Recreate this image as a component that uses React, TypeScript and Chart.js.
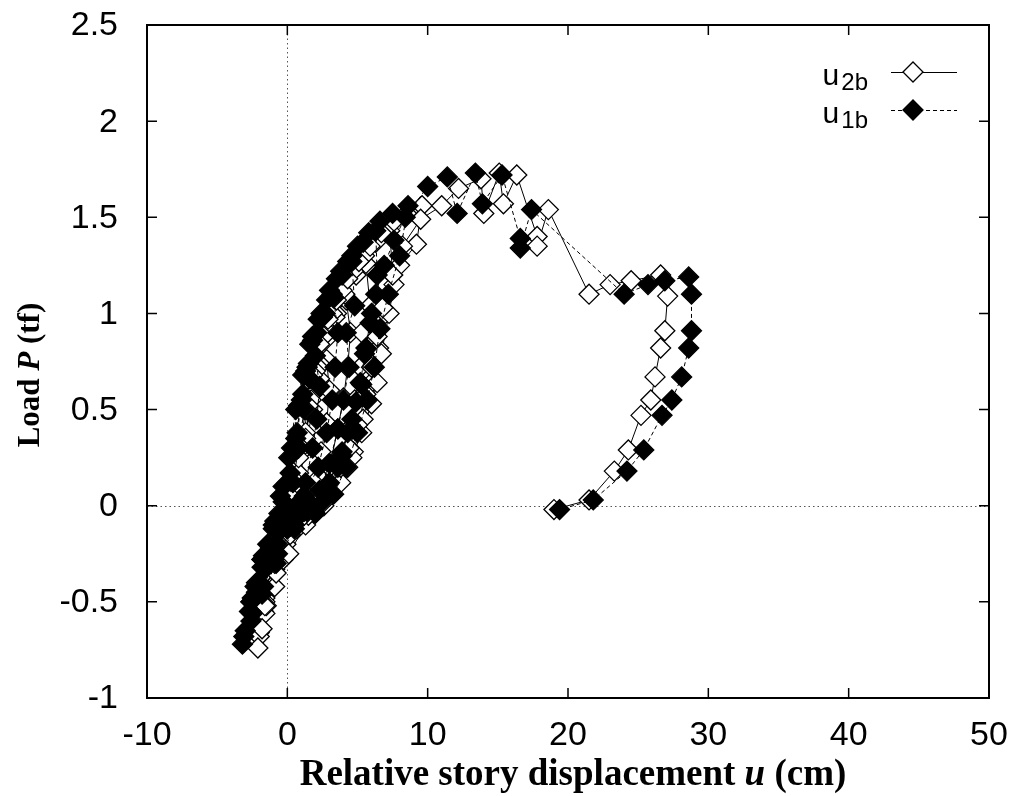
import React, { useEffect, useRef } from 'react';
import { Chart, registerables } from 'chart.js';

Chart.register(...registerables);

// u1b (filled diamonds, dashed line)
const u1bX = [
  0, 0.4, 0.8, 1.2, 1.6, 2.0, 2.3, 2.1, 1.8, 1.3, 0.6, -0.4, -1.2, -1.8, -2.3, -1.8, -1.0, -0.3,
  0.2, 0.7, 1.1, 1.5, 2.1, 2.7, 3.3, 3.6, 3.4, 3.2, 2.8, 2.2, 1.2, 0.2, -0.8, -1.6, -2.2, -2.7, -2.2, -1.4, -0.6,
  0.0, 0.6, 1.0, 1.4, 1.8, 2.5, 3.2, 3.9, 4.6, 4.8, 4.2, 4.4, 4.0, 3.6, 3.0, 2.3, 1.0, 0.0, -1.0, -1.9, -2.6, -3.0, -2.5, -1.7, -0.9,
  -0.3, 0.3, 0.8, 1.3, 1.8, 2.4, 3.0, 3.8, 4.6, 5.4, 6.3, 6.4, 6.0, 5.6, 5.2, 4.6, 3.9, 3.0, 1.8, 0.5, -0.7, -1.7, -2.5, -3.1, -2.6, -1.8, -1.0,
  -0.5, 0.1, 0.6, 1.1, 1.6, 2.2, 2.8, 3.5, 4.3, 5.0, 5.8, 6.6, 7.5, 8.6, 8.0, 7.2, 6.6, 6.2, 5.7, 5.0, 4.2, 3.3, 2.0, 0.5, -0.8, -1.8, -2.6, -3.2,
  -2.6, -1.8, -0.8, 0.3, 1.4, 2.5, 3.6, 3.9, 4.3, 4.9, 5.3, 5.5, 5.9, 6.3, 6.9, 7.6, 8.4, 10.0, 11.4, 12.1, 13.4, 13.9, 15.3, 16.6, 16.6, 17.4,
  24.0, 25.7, 26.9, 28.6, 28.8, 28.8, 28.6, 28.1, 27.4, 26.7, 25.4, 24.2, 21.8, 19.4,
];
const u1bY = [
  0, 0.12, 0.3, 0.5, 0.66, 0.78, 0.62, 0.45, 0.3, 0.12, 0.0, -0.12, -0.22, -0.32, -0.42, -0.28, -0.12, 0.02,
  0.17, 0.38, 0.58, 0.74, 0.9, 1.0, 1.08, 0.9, 0.72, 0.55, 0.38, 0.2, 0.05, -0.05, -0.2, -0.33, -0.45, -0.55, -0.4, -0.2, -0.04,
  0.12, 0.35, 0.55, 0.72, 0.86, 0.98, 1.1, 1.2, 1.27, 1.04, 0.9, 0.72, 0.55, 0.4, 0.22, 0.08, -0.04, -0.12, -0.28, -0.42, -0.55, -0.65, -0.48, -0.26, -0.08,
  0.1, 0.3, 0.52, 0.7, 0.88, 1.0, 1.12, 1.22, 1.3, 1.37, 1.43, 1.2, 1.0, 0.82, 0.64, 0.45, 0.28, 0.12, 0.0, -0.1, -0.25, -0.42, -0.56, -0.68, -0.5, -0.28, -0.1,
  0.05, 0.25, 0.5, 0.68, 0.84, 0.97, 1.07, 1.18, 1.27, 1.35, 1.42, 1.48, 1.52, 1.56, 1.3, 1.1, 0.92, 0.72, 0.55, 0.38, 0.2, 0.06, -0.04, -0.12, -0.3, -0.46, -0.6, -0.72,
  -0.5, -0.28, -0.12, -0.08, -0.03, 0.02, 0.2, 0.26, 0.38, 0.54, 0.63, 0.79, 0.95, 1.1, 1.25, 1.38, 1.5, 1.66, 1.71, 1.52, 1.73, 1.57, 1.72, 1.39, 1.34, 1.54,
  1.1, 1.15, 1.17, 1.19, 1.1, 0.91, 0.82, 0.67, 0.55, 0.47, 0.29, 0.18, 0.03, -0.02,
];

// u2b (open diamonds, solid line)
const u2bX = [
  0.3, 0.8, 1.3, 1.8, 2.3, 2.8, 3.0, 2.8, 2.4, 1.9, 1.2, 0.2, -0.6, -1.1, -1.5, -1.1, -0.4, 0.3,
  0.8, 1.3, 1.8, 2.3, 2.9, 3.5, 4.2, 4.5, 4.3, 4.0, 3.6, 3.0, 2.0, 0.9, -0.1, -0.9, -1.5, -1.9, -1.5, -0.7, 0.1,
  0.7, 1.3, 1.7, 2.2, 2.7, 3.4, 4.1, 4.9, 5.6, 5.9, 5.3, 5.2, 4.8, 4.4, 3.8, 3.0, 1.8, 0.7, -0.3, -1.1, -1.7, -2.0, -1.6, -0.9, -0.1,
  0.4, 1.0, 1.5, 2.0, 2.6, 3.2, 3.9, 4.7, 5.5, 6.3, 7.3, 7.5, 7.0, 6.5, 6.0, 5.4, 4.7, 3.8, 2.6, 1.3, 0.1, -0.9, -1.6, -2.0, -1.6, -1.0, -0.2,
  0.2, 0.8, 1.3, 1.8, 2.3, 2.9, 3.5, 4.3, 5.1, 5.9, 6.7, 7.6, 8.5, 9.6, 9.2, 8.0, 7.6, 7.25, 6.7, 6.4, 6.0, 5.3, 4.6, 4.3, 3.0, 1.5, 0.2, -0.8, -1.5, -1.8, -2.1,
  -1.6, -0.9, 0.0, 1.2, 2.6, 3.8, 4.4, 5.0, 5.6, 6.0, 6.4, 6.8, 7.5, 8.2, 9.5, 11.0, 12.2, 13.8, 14.0, 15.1, 15.4, 16.35, 17.8, 17.8, 18.6,
  21.5, 23.0, 24.5, 26.6, 27.1, 26.9, 26.6, 26.2, 25.9, 25.2, 24.3, 23.3, 21.5, 19.0,
];
const u2bY = [
  0.0, 0.12, 0.3, 0.5, 0.66, 0.76, 0.6, 0.43, 0.28, 0.12, 0.0, -0.12, -0.22, -0.32, -0.42, -0.28, -0.12, 0.02,
  0.17, 0.38, 0.58, 0.74, 0.9, 1.0, 1.07, 0.9, 0.72, 0.56, 0.4, 0.2, 0.05, -0.05, -0.2, -0.33, -0.45, -0.56, -0.4, -0.2, -0.04,
  0.12, 0.35, 0.55, 0.72, 0.86, 0.98, 1.1, 1.2, 1.26, 1.04, 0.9, 0.72, 0.55, 0.4, 0.22, 0.08, -0.04, -0.12, -0.28, -0.42, -0.55, -0.66, -0.48, -0.26, -0.08,
  0.1, 0.3, 0.52, 0.7, 0.88, 1.0, 1.12, 1.22, 1.3, 1.37, 1.43, 1.2, 1.0, 0.82, 0.64, 0.45, 0.28, 0.12, 0.0, -0.1, -0.25, -0.42, -0.56, -0.68, -0.5, -0.28, -0.1,
  0.05, 0.25, 0.5, 0.68, 0.84, 0.97, 1.07, 1.18, 1.27, 1.35, 1.42, 1.48, 1.52, 1.56, 1.36, 1.25, 1.15, 1.0, 0.79, 0.64, 0.53, 0.38, 0.25, 0.2, 0.05, -0.05, -0.15, -0.35, -0.52, -0.64, -0.74,
  -0.52, -0.3, -0.12, -0.05, 0.02, 0.2, 0.3, 0.42, 0.58, 0.72, 0.88, 1.03, 1.2, 1.35, 1.49, 1.56, 1.65, 1.7, 1.52, 1.73, 1.57, 1.72, 1.4, 1.35, 1.54,
  1.1, 1.15, 1.17, 1.2, 1.09, 0.91, 0.82, 0.67, 0.55, 0.47, 0.29, 0.18, 0.03, -0.02,
];

const xTicks = [-10, 0, 10, 20, 30, 40, 50];
const yTicks = [-1, -0.5, 0, 0.5, 1, 1.5, 2, 2.5];
const xTitleParts = [
  { t: 'Relative story displacement ', italic: false },
  { t: 'u', italic: true },
  { t: ' (cm)', italic: false },
];
const yTitleParts = [
  { t: 'Load ', italic: false },
  { t: 'P', italic: true },
  { t: ' (tf)', italic: false },
];
const legendItems = [
  { main: 'u', sub: '2b', filled: false, dash: [] as number[] },
  { main: 'u', sub: '1b', filled: true, dash: [4, 3] },
];

const toPts = (xs: number[], ys: number[]) => xs.map((x, i) => ({ x, y: ys[i] }));

const SANS = '"Liberation Sans", Arial, sans-serif';
const SERIF = '"Liberation Serif", "Times New Roman", serif';

function drawDiamond(ctx: CanvasRenderingContext2D, x: number, y: number, r: number, filled: boolean) {
  ctx.beginPath();
  ctx.moveTo(x - r, y);
  ctx.lineTo(x, y - r);
  ctx.lineTo(x + r, y);
  ctx.lineTo(x, y + r);
  ctx.closePath();
  ctx.fillStyle = filled ? '#000' : '#fff';
  ctx.fill();
  ctx.lineWidth = 1.3;
  ctx.strokeStyle = '#000';
  ctx.stroke();
}

function drawMixed(ctx: CanvasRenderingContext2D, parts: { t: string; italic: boolean }[], size: number) {
  const fontOf = (it: boolean) => `${it ? 'italic ' : ''}bold ${size}px ${SERIF}`;
  let total = 0;
  for (const p of parts) {
    ctx.font = fontOf(p.italic);
    total += ctx.measureText(p.t).width;
  }
  let x = -total / 2;
  ctx.textAlign = 'left';
  ctx.textBaseline = 'middle';
  for (const p of parts) {
    ctx.font = fontOf(p.italic);
    ctx.fillText(p.t, x, 0);
    x += ctx.measureText(p.t).width;
  }
}

const decor = {
  id: 'decor',
  beforeDatasetsDraw(chart: any) {
    const { ctx, chartArea: a, scales } = chart;
    const x0 = scales.x.getPixelForValue(0);
    const y0 = scales.y.getPixelForValue(0);
    ctx.save();
    ctx.strokeStyle = '#555';
    ctx.lineWidth = 1;
    ctx.setLineDash([1.5, 3]);
    ctx.beginPath();
    ctx.moveTo(Math.round(x0) + 0.5, a.top);
    ctx.lineTo(Math.round(x0) + 0.5, a.bottom);
    ctx.moveTo(a.left, Math.round(y0) + 0.5);
    ctx.lineTo(a.right, Math.round(y0) + 0.5);
    ctx.stroke();
    ctx.restore();
  },
  afterDraw(chart: any) {
    const { ctx, chartArea: a, scales } = chart;
    ctx.save();
    // frame
    ctx.strokeStyle = '#000';
    ctx.lineWidth = 2;
    ctx.strokeRect(a.left, a.top, a.right - a.left, a.bottom - a.top);
    // inner ticks
    ctx.lineWidth = 1.5;
    const tl = 10;
    ctx.beginPath();
    for (const v of xTicks) {
      const px = scales.x.getPixelForValue(v);
      ctx.moveTo(px, a.bottom);
      ctx.lineTo(px, a.bottom - tl);
      ctx.moveTo(px, a.top);
      ctx.lineTo(px, a.top + tl);
    }
    for (const v of yTicks) {
      const py = scales.y.getPixelForValue(v);
      ctx.moveTo(a.left, py);
      ctx.lineTo(a.left + tl, py);
      ctx.moveTo(a.right, py);
      ctx.lineTo(a.right - tl, py);
    }
    ctx.stroke();
    // tick labels
    ctx.fillStyle = '#000';
    ctx.font = `34px ${SANS}`;
    ctx.textBaseline = 'middle';
    ctx.textAlign = 'center';
    for (const v of xTicks) {
      ctx.fillText(String(v), scales.x.getPixelForValue(v), a.bottom + 38);
    }
    ctx.textAlign = 'right';
    for (const v of yTicks) {
      ctx.fillText(String(v), a.left - 29, scales.y.getPixelForValue(v) + 1);
    }
    // axis titles
    ctx.save();
    ctx.translate((a.left + a.right) / 2 + 5, 775);
    drawMixed(ctx, xTitleParts, 37);
    ctx.restore();
    ctx.save();
    ctx.translate(31, 375);
    ctx.rotate(-Math.PI / 2);
    drawMixed(ctx, yTitleParts, 31);
    ctx.restore();
    // legend
    legendItems.forEach((it, i) => {
      const ly = 72 + i * 38;
      ctx.setLineDash(it.dash);
      ctx.lineWidth = 1;
      ctx.strokeStyle = '#000';
      ctx.beginPath();
      ctx.moveTo(891, ly + 0.5);
      ctx.lineTo(957, ly + 0.5);
      ctx.stroke();
      ctx.setLineDash([]);
      drawDiamond(ctx, 913, ly, 10, it.filled);
      ctx.fillStyle = '#000';
      ctx.textBaseline = 'alphabetic';
      ctx.textAlign = 'left';
      ctx.font = `30px ${SANS}`;
      const mw = ctx.measureText(it.main).width;
      ctx.font = `24px ${SANS}`;
      const sw = ctx.measureText(it.sub).width;
      const start = 868 - sw - mw - 2;
      ctx.font = `30px ${SANS}`;
      ctx.fillText(it.main, start, ly + 13);
      ctx.font = `24px ${SANS}`;
      ctx.fillText(it.sub, start + mw + 2, ly + 18);
    });
    ctx.restore();
  },
};

export default function App() {
  const ref = useRef<HTMLCanvasElement | null>(null);
  useEffect(() => {
    if (!ref.current) return;
    const chart = new Chart(ref.current, {
      type: 'scatter',
      data: {
        datasets: [
          {
            label: 'u1b',
            data: toPts(u1bX, u1bY),
            showLine: true,
            borderColor: '#000',
            borderWidth: 1,
            borderDash: [4, 3],
            backgroundColor: '#000',
            pointStyle: 'rectRot',
            pointRadius: 10,
            pointBorderWidth: 1.3,
            pointBorderColor: '#000',
            pointBackgroundColor: '#000',
            tension: 0,
          },
          {
            label: 'u2b',
            data: toPts(u2bX, u2bY),
            showLine: true,
            borderColor: '#000',
            borderWidth: 1,
            backgroundColor: '#fff',
            pointStyle: 'rectRot',
            pointRadius: 10,
            pointBorderWidth: 1.3,
            pointBorderColor: '#000',
            pointBackgroundColor: '#fff',
            tension: 0,
          },
        ],
      },
      options: {
        animation: false,
        responsive: false,
        devicePixelRatio: 1,
        layout: { padding: { top: 25, right: 27, left: 0, bottom: 0 } },
        plugins: { legend: { display: false }, tooltip: { enabled: false } },
        scales: {
          x: {
            type: 'linear',
            min: -10,
            max: 50,
            grid: { display: false, drawTicks: false },
            border: { display: false },
            ticks: { display: false, stepSize: 10 },
            afterFit: (s: any) => { s.height = 98; },
          },
          y: {
            type: 'linear',
            min: -1,
            max: 2.5,
            grid: { display: false, drawTicks: false },
            border: { display: false },
            ticks: { display: false, stepSize: 0.5 },
            afterFit: (s: any) => { s.width = 147; },
          },
        },
      },
      plugins: [decor],
    } as any);
    return () => chart.destroy();
  }, []);
  return (
    <div style={{ position: 'fixed', left: 0, top: 0, width: 1016, height: 796, background: '#fff' }}>
      <canvas ref={ref} width={1016} height={796} style={{ width: 1016, height: 796, display: 'block' }} />
    </div>
  );
}
